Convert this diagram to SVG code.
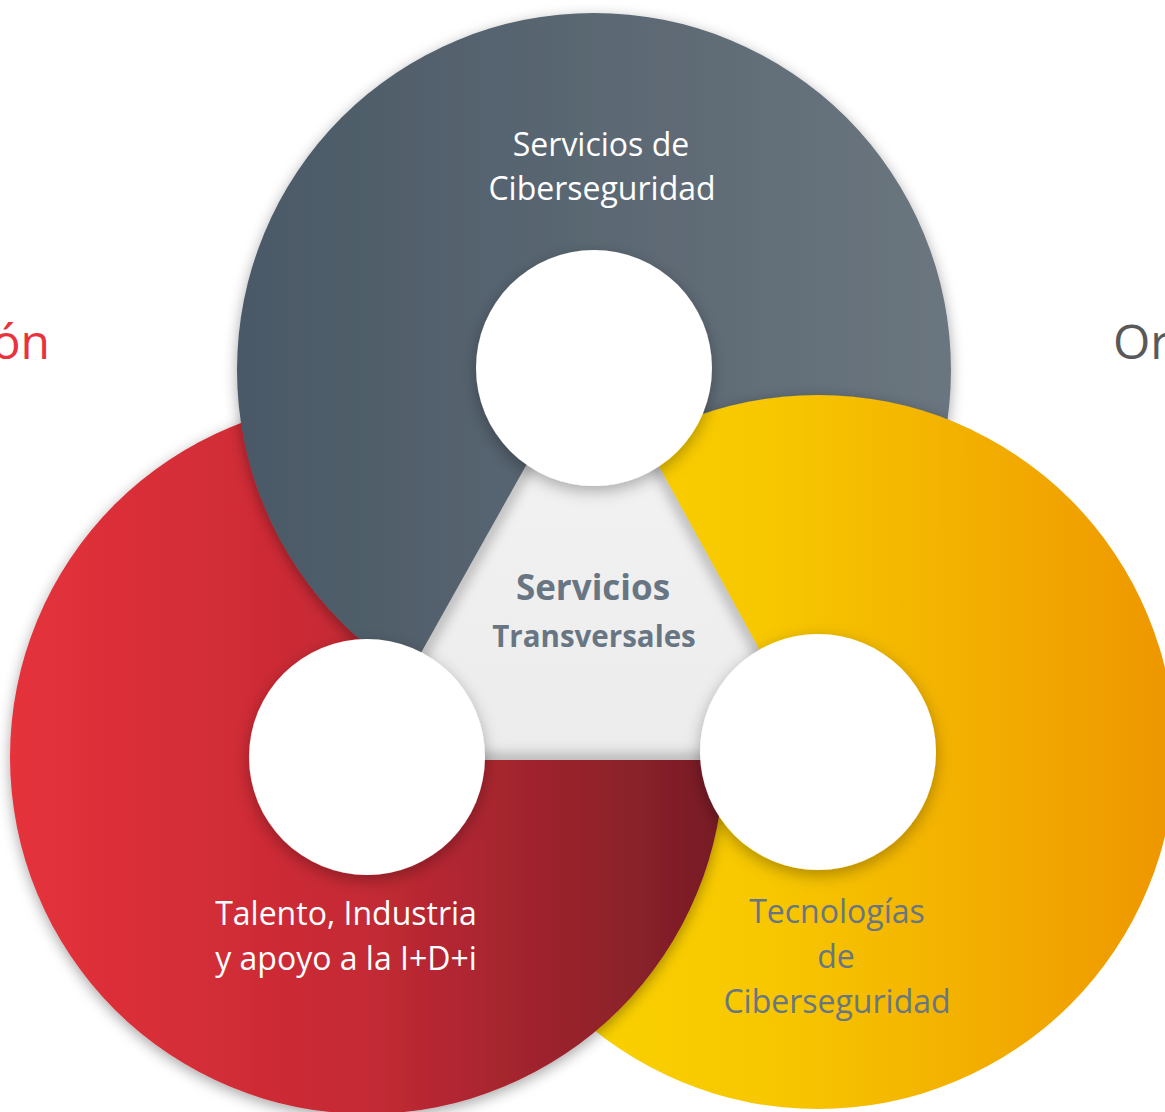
<svg xmlns="http://www.w3.org/2000/svg" width="1165" height="1112" viewBox="0 0 1165 1112">
  <style>
    .lbl { font-family: "Open Sans", "Liberation Sans", sans-serif; font-size: 32px; text-anchor: middle; }
    .white { fill: #ffffff; }
    .slate { fill: #687683; }
    .bold { font-weight: bold; }
    .side { font-family: "Open Sans", "Liberation Sans", sans-serif; font-size: 48px; }
  </style>
  <defs>
    <linearGradient id="gGray" x1="0" y1="0" x2="1" y2="0">
      <stop offset="0" stop-color="#4a5966"/>
      <stop offset="1" stop-color="#6b767f"/>
    </linearGradient>
    <linearGradient id="gRed" x1="0" y1="0" x2="1" y2="0">
      <stop offset="0" stop-color="#e5313b"/>
      <stop offset="0.5" stop-color="#c42a34"/>
      <stop offset="1" stop-color="#761d26"/>
    </linearGradient>
    <linearGradient id="gYellow" x1="0" y1="0" x2="1" y2="0">
      <stop offset="0" stop-color="#fbd800"/>
      <stop offset="0.45" stop-color="#f7c600"/>
      <stop offset="1" stop-color="#ee9600"/>
    </linearGradient>
    <linearGradient id="gTri" x1="0" y1="0" x2="0" y2="1">
      <stop offset="0" stop-color="#f4f4f4"/>
      <stop offset="1" stop-color="#ececec"/>
    </linearGradient>
    <filter id="shadow" x="-20%" y="-20%" width="140%" height="140%">
      <feDropShadow dx="0" dy="4" stdDeviation="7" flood-color="#000" flood-opacity="0.35"/>
    </filter>
    <filter id="soft" x="-20%" y="-20%" width="140%" height="140%">
      <feDropShadow dx="0" dy="5" stdDeviation="8" flood-color="#000" flood-opacity="0.3"/>
    </filter>
    <filter id="blur6"><feGaussianBlur stdDeviation="6"/></filter>
    <clipPath id="clipGrayWide"><circle cx="594" cy="370" r="385"/></clipPath>
    <clipPath id="clipOverlap">
      <circle cx="594" cy="370" r="357"/>
      <circle cx="818" cy="752" r="357" clip-path="url(#clipGrayWide)"/>
    </clipPath>
    <clipPath id="clipTri"><polygon points="593,346 361,760 820,760"/></clipPath>
  </defs>

  <rect width="1165" height="1112" fill="#ffffff"/>

  <g id="side-labels">
    <text class="side" x="50" y="359" text-anchor="end" fill="#e8323c">ón</text>
    <text class="side" x="1113" y="359" fill="#595959">Or</text>
  </g>

  <g id="ring-tecnologias">
    <circle cx="818" cy="752" r="357" fill="url(#gYellow)"/>
  </g>

  <g id="ring-talento">
    <circle cx="367" cy="757" r="357" fill="url(#gRed)" filter="url(#shadow)"/>
  </g>

  <g id="ring-servicios">
    <circle cx="594" cy="370" r="357" fill="url(#gGray)" filter="url(#shadow)"/>
  </g>

  <g id="ring-tecnologias-overlap" clip-path="url(#clipOverlap)">
    <circle cx="818" cy="752" r="357" fill="url(#gYellow)" filter="url(#shadow)"/>
  </g>

  <g id="center-triangle">
    <polygon points="593,346 361,760 820,760" fill="url(#gTri)"/>
    <g clip-path="url(#clipTri)">
      <polygon points="593,346 361,760 820,760" fill="none" stroke="#000" stroke-opacity="0.22" stroke-width="14" filter="url(#blur6)"/>
    </g>
  </g>

  <g id="holes">
    <circle cx="594" cy="368" r="118" fill="#ffffff" filter="url(#soft)"/>
    <circle cx="367" cy="757" r="118" fill="#ffffff" filter="url(#soft)"/>
    <circle cx="818" cy="752" r="118" fill="#ffffff" filter="url(#soft)"/>
  </g>

  <g id="connectors"></g>

  <g id="label-servicios-ciber">
    <text class="lbl white" x="601" y="156">Servicios de</text>
    <text class="lbl white" x="602" y="200">Ciberseguridad</text>
  </g>

  <g id="label-transversales">
    <text class="lbl slate bold" x="593" y="600" style="font-size:35px">Servicios</text>
    <text class="lbl slate bold" x="594" y="647" style="font-size:29.5px">Transversales</text>
  </g>

  <g id="label-talento">
    <text class="lbl white" x="346" y="925">Talento, Industria</text>
    <text class="lbl white" x="346" y="970">y apoyo a la I+D+i</text>
  </g>

  <g id="label-tecnologias">
    <text class="lbl slate" x="837" y="923">Tecnologías</text>
    <text class="lbl slate" x="836" y="968">de</text>
    <text class="lbl slate" x="837" y="1013">Ciberseguridad</text>
  </g>
</svg>
